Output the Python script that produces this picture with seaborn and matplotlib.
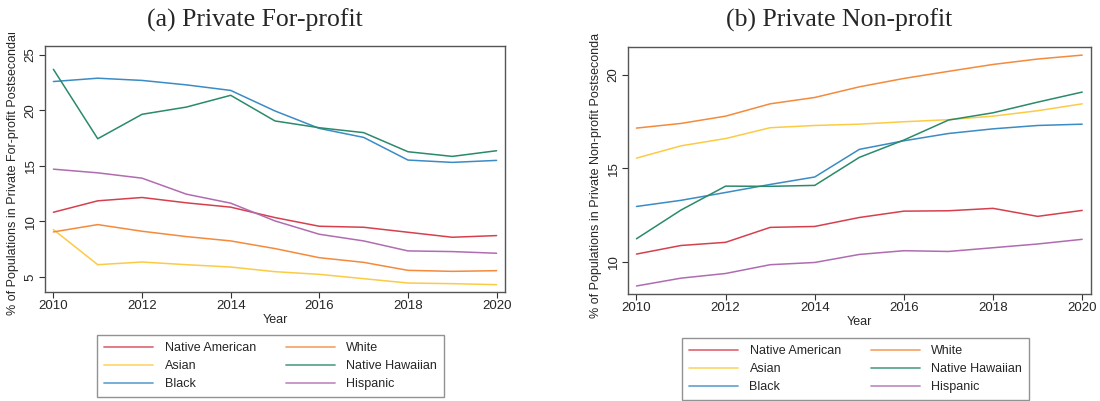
import matplotlib
matplotlib.use("Agg")
import matplotlib.pyplot as plt
import matplotlib.transforms as mtransforms
import numpy as np
import pandas as pd
import seaborn as sns

years = list(range(2010, 2021))
groups = ["Native American", "Asian", "Black", "White", "Native Hawaiian", "Hispanic"]

# Share of each population enrolled in private for-profit institutions (%)
forprofit_native_american = [10.83, 11.86, 12.16, 11.68, 11.29, 10.35, 9.57, 9.48, 9.03, 8.58, 8.73]
forprofit_asian = [9.27, 6.11, 6.35, 6.11, 5.90, 5.48, 5.24, 4.85, 4.46, 4.40, 4.31]
forprofit_black = [22.6, 22.9, 22.7, 22.3, 21.8, 19.95, 18.38, 17.57, 15.53, 15.32, 15.50]
forprofit_white = [9.06, 9.72, 9.12, 8.64, 8.25, 7.56, 6.74, 6.32, 5.60, 5.51, 5.57]
forprofit_native_hawaiian = [23.7, 17.45, 19.65, 20.3, 21.36, 19.05, 18.44, 18.0, 16.28, 15.86, 16.37]
forprofit_hispanic = [14.71, 14.38, 13.90, 12.46, 11.65, 10.05, 8.85, 8.25, 7.35, 7.29, 7.14]

# Share of each population enrolled in private non-profit institutions (%)
nonprofit_native_american = [10.41, 10.87, 11.04, 11.84, 11.89, 12.37, 12.71, 12.73, 12.86, 12.43, 12.75]
nonprofit_asian = [15.55, 16.21, 16.60, 17.18, 17.30, 17.37, 17.50, 17.61, 17.80, 18.09, 18.46]
nonprofit_black = [12.96, 13.29, 13.71, 14.14, 14.54, 16.02, 16.48, 16.87, 17.12, 17.30, 17.37]
nonprofit_white = [17.16, 17.41, 17.80, 18.46, 18.80, 19.37, 19.82, 20.20, 20.57, 20.86, 21.07]
nonprofit_native_hawaiian = [11.23, 12.77, 14.05, 14.04, 14.09, 15.59, 16.52, 17.59, 17.98, 18.55, 19.09]
nonprofit_hispanic = [8.70, 9.12, 9.37, 9.84, 9.96, 10.39, 10.59, 10.55, 10.75, 10.95, 11.20]

forprofit = [forprofit_native_american, forprofit_asian, forprofit_black,
             forprofit_white, forprofit_native_hawaiian, forprofit_hispanic]
nonprofit = [nonprofit_native_american, nonprofit_asian, nonprofit_black,
             nonprofit_white, nonprofit_native_hawaiian, nonprofit_hispanic]

palette = {
    "Native American": "#d6404e",
    "Asian": "#fccb45",
    "Black": "#3b8bc4",
    "White": "#f48a3c",
    "Native Hawaiian": "#2a8a6a",
    "Hispanic": "#b06cb0",
}


def to_long(series):
    rows = []
    for g, vals in zip(groups, series):
        for y, v in zip(years, vals):
            rows.append({"Year": y, "Group": g, "Share": v})
    return pd.DataFrame(rows)


sns.set_theme(style="white")
plt.rcParams["font.family"] = ["Liberation Sans", "DejaVu Sans"]

fig = plt.figure(figsize=(11, 4.01), dpi=100)
ax_a = fig.add_axes([0.0409, 0.2718, 0.4182, 0.6135])
ax_b = fig.add_axes([0.5709, 0.2668, 0.4206, 0.6167])

panels = [
    (ax_a, forprofit, "(a) Private For-profit",
     "% of Populations in Private For-profit Postsecondary", (3.65, 25.8), [5, 10, 15, 20, 25], 0.2318),
    (ax_b, nonprofit, "(b) Private Non-profit",
     "% of Populations in Private Non-profit Postsecondary", (8.27, 21.52), [10, 15, 20], 0.7627),
]

# upper-left corner of each legend frame, in figure fraction
legend_anchors = [(0.0882, 1 - 335 / 401), (0.6200, 1 - 338 / 401)]

for (ax, series, title, ylabel, ylim, yticks, title_x), anchor in zip(panels, legend_anchors):
    df = to_long(series)
    sns.lineplot(data=df, x="Year", y="Share", hue="Group", hue_order=groups,
                 palette=palette, linewidth=1.1, ax=ax, legend=False)
    ax.set_xlim(2009.81, 2020.19)
    ax.set_ylim(*ylim)
    ax.set_xticks([2010, 2012, 2014, 2016, 2018, 2020])
    ax.set_yticks(yticks)
    ax.tick_params(axis="both", which="both", direction="out", length=4, width=0.8,
                   color="#333333", labelsize=9.5, pad=2, bottom=True, left=True)
    for lab in ax.get_yticklabels():
        lab.set_rotation(90)
        lab.set_va("center")
    for sp in ax.spines.values():
        sp.set_color("#555555")
        sp.set_linewidth(1.0)
    ax.set_xlabel("Year", fontsize=9, labelpad=1)
    ax.set_ylabel(ylabel, fontsize=9, labelpad=4)
    # The long axis title is cut off above the plotting region
    clip = mtransforms.TransformedBbox(
        mtransforms.Bbox([[0.0, 0.0], [1.0, 0.918]]), fig.transFigure)
    ax.yaxis.label.set_clip_box(clip)
    ax.yaxis.label.set_clip_on(True)

    fig.text(title_x, 0.950, title, ha="center", va="center",
             fontsize=18.5, family=["Liberation Serif", "DejaVu Serif"])

    handles = ax.get_lines()[:len(groups)]
    leg = fig.legend(handles, groups, loc="upper left", ncol=2,
                     bbox_to_anchor=anchor, bbox_transform=fig.transFigure,
                     fontsize=9, frameon=True, fancybox=False, handlelength=3.95,
                     handletextpad=0.9, columnspacing=2.4, labelspacing=0.5,
                     borderpad=0.55, borderaxespad=0.0)
    leg.get_frame().set_edgecolor("#777777")
    leg.get_frame().set_linewidth(1.0)
    for ln in leg.get_lines():
        ln.set_alpha(0.75)
        ln.set_linewidth(1.3)

fig.savefig("out.png", dpi=100)
